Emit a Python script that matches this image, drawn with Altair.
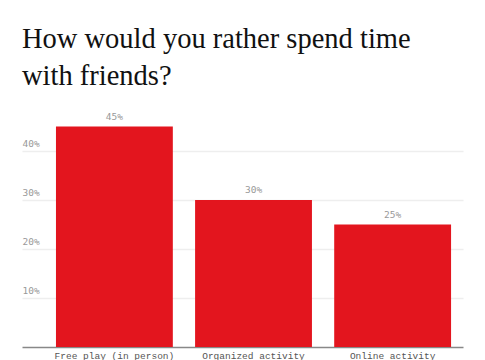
import altair as alt
import pandas as pd

categories = ["Free play (in person)", "Organized activity", "Online activity"]
values = [0.45, 0.30, 0.25]
title_lines = ["How would you rather spend time", "with friends?"]

df = pd.DataFrame({"category": categories, "value": values})

base = alt.Chart(df).encode(
    x=alt.X(
        "category:N",
        sort=categories,
        title=None,
        scale=alt.Scale(paddingInner=0.16, paddingOuter=0.165, align=0.74),
        axis=alt.Axis(
            labelAngle=0,
            labelFont="Liberation Mono",
            labelFontSize=9.5,
            labelColor="#555555",
            labelPadding=3,
            ticks=False,
            domainColor="#888888",
            domainWidth=1.5,
            grid=False,
        ),
    ),
    y=alt.Y(
        "value:Q",
        title=None,
        scale=alt.Scale(domain=[0, 0.5], nice=False),
        axis=alt.Axis(
            values=[0.1, 0.2, 0.3, 0.4],
            format=".0%",
            labelAlign="left",
            labelBaseline="bottom",
            labelPadding=0,
            labelOffset=-3,
            tickSize=0,
            ticks=False,
            domain=False,
            labelFont="DejaVu Sans Mono",
            labelFontSize=9.5,
            labelColor="#999999",
            gridColor="#eeeeee",
            gridWidth=1.5,
        ),
    ),
)

bars = base.mark_bar(color="#e3151e")
labels = base.mark_text(
    baseline="bottom", dy=-5, font="DejaVu Sans Mono", fontSize=9.5, color="#999999"
).encode(text=alt.Text("value:Q", format=".0%"))

chart = (
    (bars + labels)
    .properties(
        width=441,
        height=245,
        padding={"left": 14, "top": 16, "right": 5, "bottom": 5},
        title=alt.TitleParams(
            text=title_lines,
            anchor="start",
            font="Liberation Serif",
            fontSize=28.5,
            fontWeight="normal",
            color="#111111",
            lineHeight=37,
            offset=12,
        ),
    )
    .configure_view(stroke=None)
)

chart.save("out.html", embed_options={"renderer": "svg", "actions": False})
